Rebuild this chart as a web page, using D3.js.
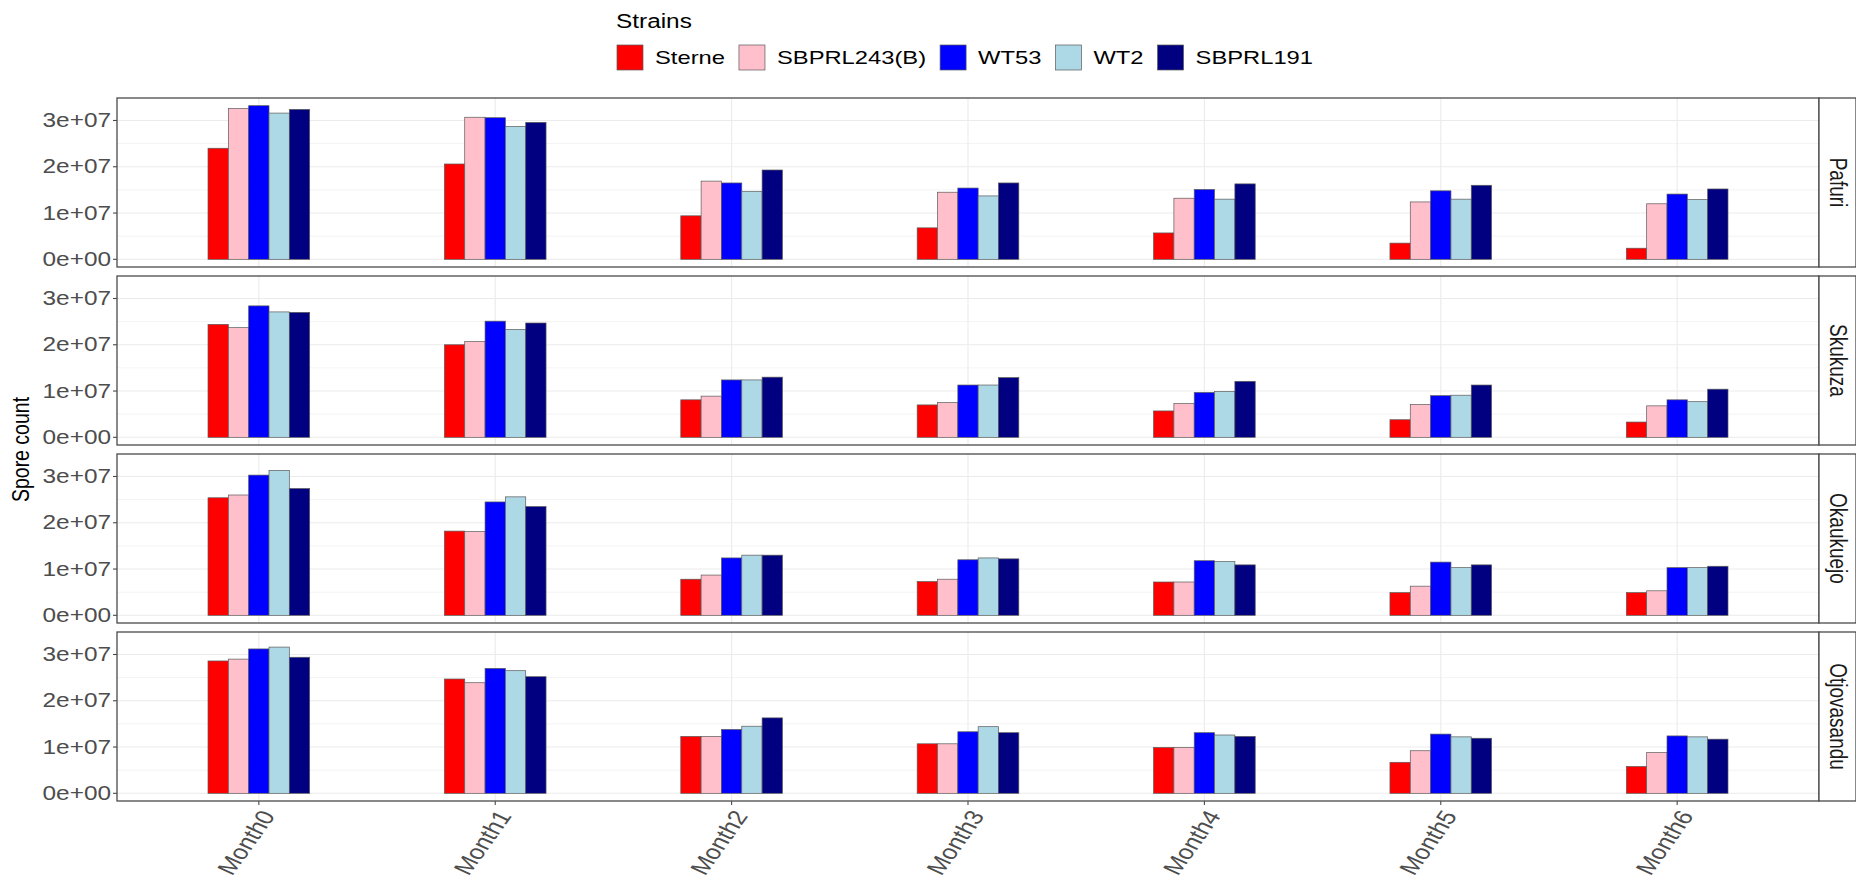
<!DOCTYPE html>
<html>
<head>
<meta charset="utf-8">
<script src="https://cdn.jsdelivr.net/npm/d3@7"></script>
<style>
  html, body { margin: 0; padding: 0; background: #fff; }
  svg { display: block; font-family: "Liberation Sans", Arial, sans-serif; }
</style>
</head>
<body>
<svg id="chart" width="1856" height="888"></svg>
<script>
// ---- data -------------------------------------------------------------
const months = ["Month0", "Month1", "Month2", "Month3", "Month4", "Month5", "Month6"];
const strains = ["Sterne", "SBPRL243(B)", "WT53", "WT2", "SBPRL191"];
const strainColors = ["#FF0000", "#FFC0CB", "#0000FF", "#ADD8E6", "#000080"];
const sites = ["Pafuri", "Skukuza", "Okaukuejo", "Otjovasandu"];
const yTicks = [0, 1e7, 2e7, 3e7];
const yTickLabels = ["0e+00", "1e+07", "2e+07", "3e+07"];

// spore counts per strain (rows follow `strains`, columns follow `months`)
const pafuri = [
  [2.40e7, 2.06e7, 0.94e7, 0.68e7, 0.57e7, 0.35e7, 0.24e7],
  [3.26e7, 3.07e7, 1.69e7, 1.45e7, 1.32e7, 1.24e7, 1.20e7],
  [3.32e7, 3.06e7, 1.65e7, 1.54e7, 1.51e7, 1.48e7, 1.41e7],
  [3.16e7, 2.87e7, 1.47e7, 1.37e7, 1.30e7, 1.30e7, 1.29e7],
  [3.24e7, 2.96e7, 1.93e7, 1.65e7, 1.63e7, 1.60e7, 1.52e7]
];
const skukuza = [
  [2.44e7, 2.00e7, 0.81e7, 0.70e7, 0.57e7, 0.38e7, 0.33e7],
  [2.37e7, 2.07e7, 0.89e7, 0.75e7, 0.73e7, 0.71e7, 0.68e7],
  [2.84e7, 2.51e7, 1.24e7, 1.13e7, 0.97e7, 0.90e7, 0.81e7],
  [2.71e7, 2.33e7, 1.24e7, 1.13e7, 0.99e7, 0.91e7, 0.77e7],
  [2.70e7, 2.47e7, 1.30e7, 1.29e7, 1.21e7, 1.13e7, 1.04e7]
];
const okaukuejo = [
  [2.54e7, 1.82e7, 0.78e7, 0.73e7, 0.72e7, 0.49e7, 0.49e7],
  [2.60e7, 1.81e7, 0.87e7, 0.78e7, 0.72e7, 0.63e7, 0.53e7],
  [3.03e7, 2.45e7, 1.24e7, 1.20e7, 1.18e7, 1.15e7, 1.03e7],
  [3.13e7, 2.56e7, 1.30e7, 1.24e7, 1.16e7, 1.03e7, 1.03e7],
  [2.74e7, 2.35e7, 1.30e7, 1.22e7, 1.09e7, 1.09e7, 1.06e7]
];
const otjovasandu = [
  [2.86e7, 2.47e7, 1.23e7, 1.07e7, 0.99e7, 0.67e7, 0.58e7],
  [2.90e7, 2.39e7, 1.23e7, 1.07e7, 0.99e7, 0.92e7, 0.88e7],
  [3.12e7, 2.70e7, 1.38e7, 1.33e7, 1.31e7, 1.28e7, 1.24e7],
  [3.16e7, 2.65e7, 1.45e7, 1.44e7, 1.26e7, 1.22e7, 1.22e7],
  [2.94e7, 2.52e7, 1.63e7, 1.31e7, 1.23e7, 1.19e7, 1.17e7]
];
const siteValues = [pafuri, skukuza, okaukuejo, otjovasandu];

// ---- layout -----------------------------------------------------------
const W = 1856, H = 888;
const panelLeft = 117, panelRight = 1819;
const panelTop = 98, panelH = 169, panelGap = 9;
const stripW = 37;
const sx = 1.25;                 // horizontal text stretch
const borderCol = "#4a4a4a";
const gridCol = "#ebebeb";

const svg = d3.select("#chart");
svg.append("rect").attr("width", W).attr("height", H).attr("fill", "#fff");

const x = d3.scalePoint().domain(months).range([panelLeft, panelRight]).padding(0.6);
const groupW = x.step() * 0.43;
const xInner = d3.scaleBand().domain(strains).range([-groupW / 2, groupW / 2]).padding(0);

const yMax = d3.max(siteValues, s => d3.max(s, r => d3.max(r)));
const color = d3.scaleOrdinal().domain(strains).range(strainColors);

function stretchedText(g, tx, ty, rot) {
  return g.append("text")
    .attr("transform", `translate(${tx},${ty}) scale(${sx},1)` + (rot ? ` rotate(${rot})` : ""));
}

sites.forEach((site, si) => {
  const top = panelTop + si * (panelH + panelGap);
  const bottom = top + panelH;
  const y = d3.scaleLinear().domain([-0.05 * yMax, 1.05 * yMax]).range([bottom, top]);
  const g = svg.append("g");

  // minor + major horizontal grid
  const minor = d3.range(0.5e7, yMax * 1.05, 1e7);
  g.selectAll(".minor").data(minor).join("line")
    .attr("x1", panelLeft).attr("x2", panelRight)
    .attr("y1", d => y(d)).attr("y2", d => y(d))
    .attr("stroke", gridCol).attr("stroke-width", 0.6);
  g.selectAll(".major").data(yTicks).join("line")
    .attr("x1", panelLeft).attr("x2", panelRight)
    .attr("y1", d => y(d)).attr("y2", d => y(d))
    .attr("stroke", gridCol).attr("stroke-width", 1.1);
  g.selectAll(".vgrid").data(months).join("line")
    .attr("x1", d => x(d)).attr("x2", d => x(d))
    .attr("y1", top).attr("y2", bottom)
    .attr("stroke", gridCol).attr("stroke-width", 1.1);

  // bars
  const rows = [];
  siteValues[si].forEach((vals, k) => vals.forEach((v, m) => rows.push({ strain: strains[k], month: months[m], v })));
  g.selectAll(".bar").data(rows).join("rect")
    .attr("x", d => x(d.month) + xInner(d.strain))
    .attr("width", xInner.bandwidth())
    .attr("y", d => y(d.v))
    .attr("height", d => y(0) - y(d.v))
    .attr("fill", d => color(d.strain))
    .attr("stroke", "#5a5a5a").attr("stroke-width", 0.7);

  // panel border
  g.append("rect").attr("x", panelLeft).attr("y", top)
    .attr("width", panelRight - panelLeft).attr("height", panelH)
    .attr("fill", "none").attr("stroke", borderCol).attr("stroke-width", 1.3);

  // strip
  g.append("rect").attr("x", panelRight).attr("y", top)
    .attr("width", stripW).attr("height", panelH)
    .attr("fill", "#fff").attr("stroke", borderCol).attr("stroke-width", 1.3);
  stretchedText(g, panelRight + stripW / 2, top + panelH / 2, 90)
    .attr("text-anchor", "middle").attr("dominant-baseline", "central")
    .attr("font-size", 19).attr("fill", "#1a1a1a").text(site);

  // y axis
  const ax = g.append("g");
  yTicks.forEach((t, i) => {
    ax.append("line").attr("x1", panelLeft - 4).attr("x2", panelLeft)
      .attr("y1", y(t)).attr("y2", y(t)).attr("stroke", borderCol).attr("stroke-width", 1.1);
    stretchedText(ax, panelLeft - 6, y(t))
      .attr("text-anchor", "end").attr("dominant-baseline", "central")
      .attr("font-size", 19.5).attr("fill", "#4d4d4d").text(yTickLabels[i]);
  });

  // x axis on the last panel
  if (si === sites.length - 1) {
    months.forEach(m => {
      g.append("line").attr("x1", x(m)).attr("x2", x(m))
        .attr("y1", bottom).attr("y2", bottom + 4)
        .attr("stroke", borderCol).attr("stroke-width", 1.1);
      stretchedText(g, x(m), bottom + 7, -60)
        .attr("text-anchor", "end").attr("dy", "0.75em")
        .attr("font-size", 21).attr("fill", "#4d4d4d").text(m);
    });
  }
});

// y axis title
const midY = panelTop + (sites.length * panelH + (sites.length - 1) * panelGap) / 2;
stretchedText(svg, 21, midY, -90)
  .attr("text-anchor", "middle").attr("dominant-baseline", "central")
  .attr("font-size", 19.5).attr("fill", "#000").text("Spore count");

// legend
const lg = svg.append("g");
stretchedText(lg, 616, 21)
  .attr("dominant-baseline", "central").attr("font-size", 19.5).attr("fill", "#000").text("Strains");
let lx = 617;
strains.forEach(s => {
  lg.append("rect").attr("x", lx).attr("y", 45).attr("width", 26).attr("height", 25)
    .attr("fill", color(s)).attr("stroke", "#5a5a5a").attr("stroke-width", 0.7);
  const t = stretchedText(lg, lx + 26 + 12, 57.5)
    .attr("dominant-baseline", "central").attr("font-size", 19).attr("fill", "#000").text(s);
  lx = lx + 26 + 12 + t.node().getComputedTextLength() * sx + 14;
});
</script>
</body>
</html>
